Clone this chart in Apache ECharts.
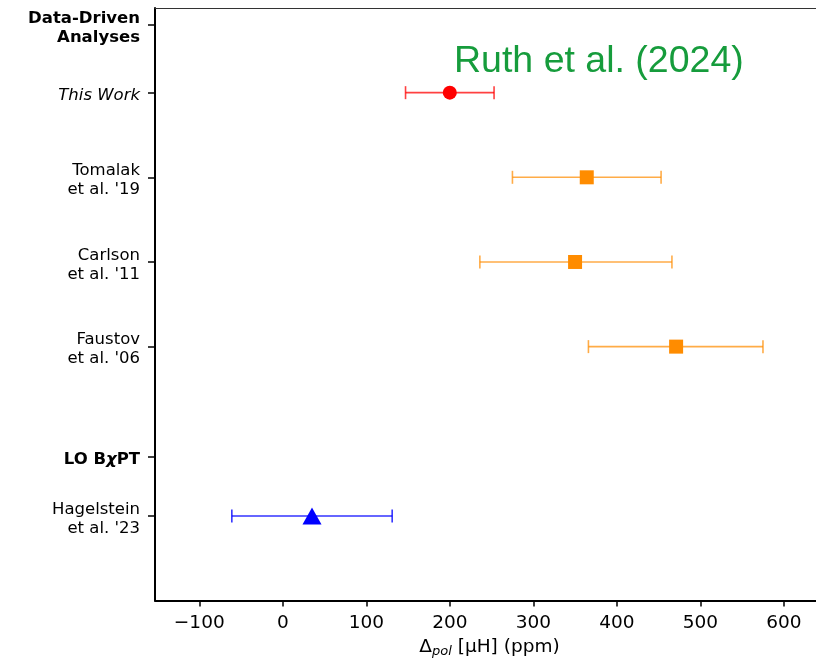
<!DOCTYPE html>
<html>
<head>
<meta charset="utf-8">
<script src="https://cdn.jsdelivr.net/npm/echarts@6/dist/echarts.min.js"></script>
<style>
  html, body { margin: 0; padding: 0; background: #fff; }
  #main { width: 816px; height: 663px; }
</style>
</head>
<body>
<div id="main"></div>
<script>
// measurements (Δpol in ppm), one entry per result
var pointNames = ['This Work', 'Tomalak', 'Carlson', 'Faustov', 'Hagelstein'];
var pointRows = [6, 5, 4, 3, 1];
var centralValues = [200, 364, 350, 471, 35];
var lowerValues = [147, 275, 236, 366, -61];
var upperValues = [253, 453, 466, 575, 131];
var pointGroups = ['ruth', 'dispersive', 'dispersive', 'dispersive', 'bchipt'];

// y axis rows and their labels
var rowValues = [6.8, 6, 5, 4, 3, 1.7, 1];
var rowLabels = ['Data-Driven\nAnalyses', 'This Work', "Tomalak\net al. '19", "Carlson\net al. '11",
  "Faustov\net al. '06", 'LO BχPT', "Hagelstein\net al. '23"];

var xTicks = [-100, 0, 100, 200, 300, 400, 500, 600];

var groupStyle = {
  ruth: { color: '#ff0000', bar: 'rgba(255,0,0,0.75)', symbol: 'circle', size: 14 },
  dispersive: { color: '#ff8c00', bar: 'rgba(255,140,0,0.72)', symbol: 'rect', size: 14 },
  bchipt: { color: '#0000ff', bar: 'rgba(0,0,255,0.8)', symbol: 'triangle', size: [19, 17] }
};

var myChart = echarts.init(document.getElementById('main'));

var errData = [];
var pointData = [];
for (var i = 0; i < pointNames.length; i++) {
  var st = groupStyle[pointGroups[i]];
  errData.push([lowerValues[i], upperValues[i], pointRows[i]]);
  pointData.push({
    name: pointNames[i],
    value: [centralValues[i], pointRows[i]],
    symbol: st.symbol,
    symbolSize: st.size,
    itemStyle: { color: st.color, opacity: 1 }
  });
}

function rowFormatter(value) {
  var idx = rowValues.indexOf(value);
  if (idx < 0) return '';
  var txt = rowLabels[idx];
  if (idx === 0) return txt.split('\n').map(function (s) { return '{b|' + s + '}'; }).join('\n');
  if (idx === 1) return '{i|' + txt + '}';
  if (idx === 5) return '{b|LO B}{bi|χ}{b|PT}';
  return txt.split('\n').map(function (s) { return '{r|' + s + '}'; }).join('\n');
}

var font = 'DejaVu Sans';
var fs = 16.5;
var labelRich = {
  r: { fontFamily: font, fontSize: fs, color: '#000', lineHeight: 19, align: 'right' },
  i: { fontFamily: font, fontSize: fs, color: '#000', fontStyle: 'italic', lineHeight: 19, align: 'right' },
  b: { fontFamily: font, fontSize: fs, color: '#000', fontWeight: 'bold', lineHeight: 19, align: 'right' },
  bi: { fontFamily: font, fontSize: fs, color: '#000', fontWeight: 'bold', fontStyle: 'italic', lineHeight: 19 }
};

var option = {
  animation: false,
  backgroundColor: '#fff',
  title: {
    text: 'Ruth et al. (2024)',
    left: 449,
    top: 38,
    textStyle: { fontFamily: 'Liberation Sans', fontSize: 37.5, fontWeight: 'normal', color: '#169c3c' }
  },
  grid: {
    left: 155,
    top: 8,
    bottom: 62,
    right: 0
  },
  xAxis: [{
    type: 'value',
    min: -153,
    max: 638.5,
    splitLine: { show: false },
    axisLine: { show: true, onZero: false, lineStyle: { color: '#000', width: 2 } },
    axisTick: { show: true, customValues: xTicks, length: 6, lineStyle: { color: '#000', width: 1.5 } },
    axisLabel: {
      customValues: xTicks,
      fontFamily: font,
      fontSize: 18.5,
      color: '#000',
      margin: 13,
      formatter: function (v) { return v < 0 ? '\u2212' + Math.abs(v) : String(v); }
    },
    name: '{n|Δ}{s|pol}{n| [μH] (ppm)}',
    nameLocation: 'middle',
    nameGap: 34,
    nameTextStyle: {
      padding: [0, 0, 0, 8],
      rich: {
        n: { fontFamily: font, fontSize: 18.5, color: '#000' },
        s: { fontFamily: font, fontSize: 13, fontStyle: 'italic', color: '#000', padding: [9, 0, 0, 0] }
      }
    }
  }, {
    // top spine only
    type: 'value',
    position: 'top',
    min: -153,
    max: 638.5,
    splitLine: { show: false },
    axisLine: { show: true, onZero: false, lineStyle: { color: '#333', width: 1.2 } },
    axisTick: { show: false },
    axisLabel: { show: false }
  }],
  yAxis: {
    type: 'value',
    min: 0,
    max: 7,
    splitLine: { show: false },
    axisLine: { show: true, onZero: false, lineStyle: { color: '#000', width: 2 } },
    axisTick: { show: true, customValues: rowValues, length: 7, lineStyle: { color: '#000', width: 1.5 } },
    axisLabel: {
      customValues: rowValues,
      margin: 15,
      padding: [6, 0, 0, 0],
      formatter: rowFormatter,
      rich: labelRich
    }
  },
  series: [
    {
      type: 'custom',
      data: errData,
      encode: { x: [0, 1], y: 2 },
      z: 2,
      renderItem: function (params, api) {
        var y = api.value(2);
        var p1 = api.coord([api.value(0), y]);
        var p2 = api.coord([api.value(1), y]);
        var cap = 6.5;
        var style = { stroke: groupStyle[pointGroups[params.dataIndex]].bar, lineWidth: 1.6 };
        return {
          type: 'group',
          children: [
            { type: 'line', shape: { x1: p1[0], y1: p1[1], x2: p2[0], y2: p2[1] }, style: style },
            { type: 'line', shape: { x1: p1[0], y1: p1[1] - cap, x2: p1[0], y2: p1[1] + cap }, style: style },
            { type: 'line', shape: { x1: p2[0], y1: p2[1] - cap, x2: p2[0], y2: p2[1] + cap }, style: style }
          ]
        };
      }
    },
    {
      type: 'scatter',
      data: pointData,
      z: 3
    }
  ]
};

myChart.setOption(option);
</script>
</body>
</html>
